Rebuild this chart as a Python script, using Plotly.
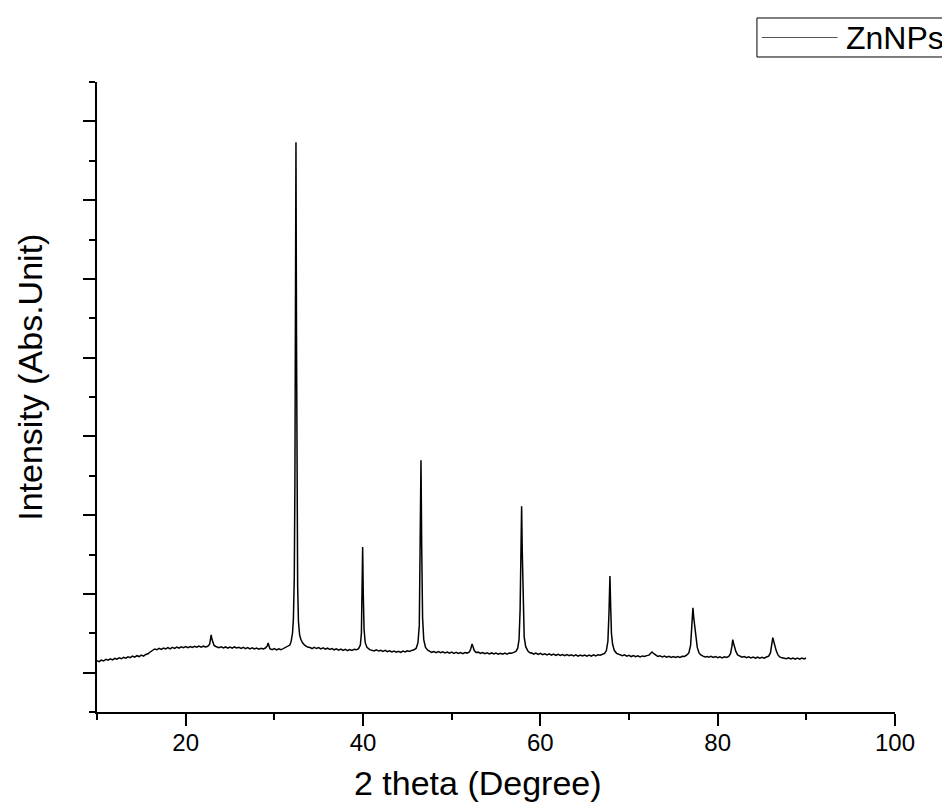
import plotly.graph_objects as go

# 2-theta (degree) and intensity (arbitrary counts)
two_theta = [
    10.00, 10.25, 10.50, 10.75, 11.00, 11.25, 11.50, 11.75, 12.00, 12.25, 12.50, 12.75,
    13.00, 13.25, 13.50, 13.75, 14.00, 14.25, 14.50, 14.75, 15.00, 15.25, 15.50, 15.75,
    16.00, 16.25, 16.50, 16.75, 17.00, 17.25, 17.50, 17.75, 18.00, 18.25, 18.50, 18.75,
    19.00, 19.25, 19.50, 19.75, 20.00, 20.25, 20.50, 20.75, 21.00, 21.25, 21.50, 21.75,
    22.00, 22.25, 22.50, 22.70, 22.80, 22.88, 22.95, 23.05, 23.20, 23.40,
    23.50, 23.75, 24.00, 24.25, 24.50, 24.75, 25.00, 25.25, 25.50, 25.75, 26.00, 26.25,
    26.50, 26.75, 27.00, 27.25, 27.50, 27.75, 28.00, 28.25, 28.50, 28.75, 29.00, 29.20,
    29.30, 29.40, 29.50, 29.75, 30.00, 30.25, 30.50, 30.75, 31.00, 31.25, 31.50, 31.75,
    31.90, 32.05, 32.15, 32.25, 32.32, 32.38, 32.44, 32.50, 32.56, 32.63, 32.72, 32.85,
    33.00, 33.20, 33.45, 33.75, 34.00, 34.25, 34.50, 34.75, 35.00, 35.25, 35.50, 35.75,
    36.00, 36.25, 36.50, 36.75, 37.00, 37.25, 37.50, 37.75, 38.00, 38.25, 38.50, 38.75,
    39.00, 39.25, 39.50, 39.70, 39.82, 39.90, 39.96, 40.03, 40.12, 40.25, 40.45, 40.75,
    41.00, 41.25, 41.50, 41.75, 42.00, 42.25, 42.50, 42.75, 43.00, 43.25, 43.50, 43.75,
    44.00, 44.25, 44.50, 44.75, 45.00, 45.25, 45.50, 45.75, 46.00, 46.20, 46.35, 46.45,
    46.54, 46.62, 46.72, 46.85, 47.05, 47.30, 47.50, 47.75, 48.00, 48.25, 48.50, 48.75,
    49.00, 49.25, 49.50, 49.75, 50.00, 50.25, 50.50, 50.75, 51.00, 51.25, 51.50, 51.75,
    52.00, 52.15, 52.30, 52.42, 52.55, 52.75, 53.00, 53.25, 53.50, 53.75, 54.00, 54.25,
    54.50, 54.75, 55.00, 55.25, 55.50, 55.75, 56.00, 56.25, 56.50, 56.75, 57.00, 57.25,
    57.45, 57.60, 57.72, 57.82, 57.89, 57.96, 58.06, 58.18, 58.35, 58.60, 58.85, 59.00,
    59.25, 59.50, 59.75, 60.00, 60.25, 60.50, 60.75, 61.00, 61.25, 61.50, 61.75, 62.00,
    62.25, 62.50, 62.75, 63.00, 63.25, 63.50, 63.75, 64.00, 64.25, 64.50, 64.75, 65.00,
    65.25, 65.50, 65.75, 66.00, 66.25, 66.50, 66.75, 67.00, 67.25, 67.45, 67.62, 67.74,
    67.85, 67.93, 68.02, 68.15, 68.35, 68.60, 68.85, 69.00, 69.25, 69.50, 69.75, 70.00,
    70.25, 70.50, 70.75, 71.00, 71.25, 71.50, 71.75, 72.00, 72.25, 72.45, 72.60, 72.80,
    73.00, 73.25, 73.50, 73.75, 74.00, 74.25, 74.50, 74.75, 75.00, 75.25, 75.50, 75.75,
    76.00, 76.25, 76.50, 76.75, 76.95, 77.10, 77.21, 77.30, 77.42, 77.55, 77.70, 77.90,
    78.10, 78.35, 78.60, 78.85, 79.00, 79.25, 79.50, 79.75, 80.00, 80.25, 80.50, 80.75,
    81.00, 81.25, 81.45, 81.60, 81.70, 81.80, 81.92, 82.05, 82.25, 82.50, 82.75, 83.00,
    83.25, 83.50, 83.75, 84.00, 84.25, 84.50, 84.75, 85.00, 85.25, 85.50, 85.75, 85.95,
    86.10, 86.22, 86.32, 86.45, 86.60, 86.80, 87.00, 87.25, 87.50, 87.75, 88.00, 88.25,
    88.50, 88.75, 89.00, 89.25, 89.50, 89.75, 89.96,
]
intensity = [
    1152, 1140, 1160, 1148, 1170, 1158, 1175, 1162, 1180, 1170, 1188, 1176,
    1195, 1184, 1200, 1190, 1210, 1196, 1215, 1204, 1222, 1210, 1230, 1240,
    1262, 1285, 1300, 1290, 1308, 1296, 1312, 1300, 1318, 1302, 1320, 1308,
    1325, 1312, 1328, 1316, 1330, 1318, 1332, 1320, 1334, 1322, 1338, 1324,
    1336, 1326, 1335, 1360, 1420, 1481, 1430, 1380, 1345, 1332,
    1326, 1316, 1328, 1314, 1326, 1312, 1324, 1310, 1326, 1314, 1322, 1308,
    1320, 1305, 1318, 1302, 1315, 1300, 1312, 1298, 1310, 1300, 1312, 1340,
    1375, 1330, 1305, 1292, 1305, 1288, 1302, 1290, 1305, 1312, 1325, 1350,
    1400, 1500, 1680, 2200, 3400, 5500, 7734, 5300, 3200, 2100, 1650, 1480,
    1420, 1375, 1345, 1325, 1320, 1306, 1322, 1306, 1318, 1302, 1314, 1298,
    1310, 1294, 1306, 1290, 1302, 1286, 1298, 1282, 1296, 1280, 1294, 1282,
    1296, 1290, 1305, 1350, 1500, 1900, 2595, 2000, 1550, 1380, 1320, 1292,
    1288, 1276, 1290, 1274, 1284, 1270, 1282, 1265, 1278, 1262, 1275, 1260,
    1272, 1258, 1274, 1262, 1278, 1268, 1282, 1290, 1310, 1380, 1600, 2400,
    3696, 2600, 1700, 1420, 1320, 1285, 1270, 1258, 1268, 1254, 1266, 1252,
    1264, 1250, 1262, 1248, 1260, 1245, 1258, 1244, 1256, 1242, 1255, 1248,
    1262, 1300, 1365, 1320, 1280, 1255, 1260, 1245, 1255, 1240, 1252, 1238,
    1250, 1236, 1248, 1235, 1246, 1234, 1248, 1235, 1250, 1245, 1258, 1270,
    1310, 1420, 1800, 2600, 3114, 2550, 1750, 1450, 1330, 1275, 1250, 1252,
    1236, 1248, 1232, 1244, 1228, 1240, 1225, 1238, 1222, 1236, 1220, 1232,
    1218, 1230, 1215, 1228, 1214, 1226, 1212, 1225, 1210, 1224, 1212, 1222,
    1208, 1222, 1210, 1225, 1212, 1228, 1222, 1235, 1245, 1280, 1400, 1750,
    2228, 1850, 1500, 1360, 1280, 1245, 1230, 1230, 1214, 1226, 1210, 1220,
    1204, 1216, 1202, 1214, 1200, 1212, 1204, 1216, 1222, 1245, 1262, 1240,
    1222, 1205, 1214, 1198, 1210, 1196, 1206, 1194, 1204, 1192, 1204, 1194,
    1208, 1205, 1222, 1250, 1350, 1600, 1823, 1700, 1560, 1450, 1320, 1250,
    1225, 1210, 1200, 1205, 1195, 1206, 1192, 1204, 1190, 1202, 1188, 1200,
    1192, 1205, 1240, 1330, 1418, 1370, 1320, 1270, 1225, 1205, 1195, 1203,
    1190, 1200, 1186, 1198, 1184, 1196, 1183, 1194, 1184, 1198, 1210, 1250,
    1350, 1443, 1400, 1340, 1280, 1225, 1200, 1188, 1184, 1176, 1188, 1174,
    1186, 1172, 1184, 1171, 1185, 1174, 1186,
]

series_name = "ZnNPs"
x_title = "2 theta (Degree)"
y_title = "Intensity (Abs.Unit)"

FONT = "Liberation Sans, Arial, sans-serif"

fig = go.Figure()
fig.add_trace(go.Scatter(
    x=two_theta, y=intensity, mode="lines", name=series_name,
    line=dict(color="black", width=1.5), showlegend=False,
))

# Legend box drawn like the original (Origin-style, long line sample)
fig.add_shape(type="rect", xref="paper", yref="paper",
              x0=0.827, x1=1.075, y0=1.0397, y1=1.1016,
              line=dict(color="black", width=1), fillcolor="white", layer="above")
fig.add_shape(type="line", xref="paper", yref="paper",
              x0=0.833, x1=0.928, y0=1.0706, y1=1.0706,
              line=dict(color="#555555", width=1.2))
fig.add_annotation(text=series_name, xref="paper", yref="paper",
                   x=0.936, y=1.0706, xanchor="left", yanchor="middle",
                   showarrow=False, font=dict(family=FONT, size=32, color="black"))

# Axis titles (placed where the original has them)
fig.add_annotation(text=x_title, xref="paper", yref="paper",
                   x=0.4774, y=-0.1127, xanchor="center", yanchor="middle",
                   showarrow=False, font=dict(family=FONT, size=34, color="black"))
fig.add_annotation(text=y_title, xref="paper", yref="paper",
                   x=-0.084, y=0.532, xanchor="center", yanchor="middle",
                   textangle=-90, showarrow=False,
                   font=dict(family=FONT, size=34, color="black"))

fig.update_layout(
    width=942, height=801,
    margin=dict(l=89, r=55, t=74, b=97),
    paper_bgcolor="white", plot_bgcolor="white",
    font=dict(family=FONT, color="black"),
    xaxis=dict(
        range=[10, 100], tick0=0, dtick=20,
        showline=True, linecolor="black", linewidth=2,
        ticks="outside", ticklen=12, tickwidth=2, tickcolor="black",
        minor=dict(ticks="outside", ticklen=6, tickwidth=2, tickcolor="black", dtick=10, tick0=0),
        showgrid=False, zeroline=False,
        tickfont=dict(family=FONT, size=24, color="black"),
        ticklabelstandoff=-4,
    ),
    yaxis=dict(
        range=[500, 8500], tick0=0, dtick=1000,
        showline=True, linecolor="black", linewidth=2,
        ticks="outside", ticklen=12, tickwidth=2, tickcolor="black",
        minor=dict(ticks="outside", ticklen=6, tickwidth=2, tickcolor="black", dtick=500, tick0=0),
        showgrid=False, zeroline=False, showticklabels=False,
    ),
)

fig.write_html("out.html")
